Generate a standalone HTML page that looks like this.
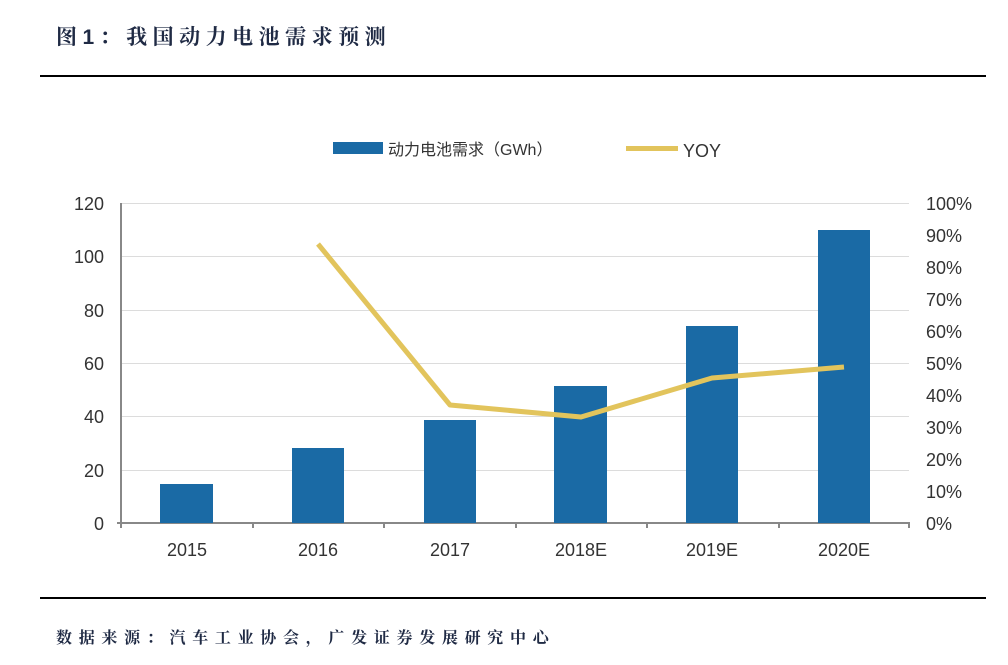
<!DOCTYPE html>
<html><head><meta charset="utf-8"><style>
body{margin:0;background:#fff;width:1008px;height:660px;overflow:hidden}
</style></head><body>
<svg width="1008" height="660" xmlns="http://www.w3.org/2000/svg" font-family="'Liberation Sans','Noto Sans CJK SC',sans-serif">
<text x="56" y="44" font-size="21" font-weight="bold" fill="#1f2a44" letter-spacing="5.5" font-family="'Liberation Sans','Noto Serif CJK SC',serif">图1：我国动力电池需求预测</text>
<rect x="40" y="75" width="946" height="2" fill="#000"/>
<rect x="40" y="597" width="946" height="2" fill="#000"/>
<text x="56" y="643" font-size="16" font-weight="bold" fill="#1f2a44" letter-spacing="6.7" font-family="'Liberation Sans','Noto Serif CJK SC',serif">数据来源：汽车工业协会，广发证券发展研究中心</text>
<!-- legend -->
<rect x="333" y="142" width="50" height="12" fill="#1a6aa5"/>
<text x="388" y="155" font-size="16" fill="#333">动力电池需求（GWh）</text>
<rect x="626" y="146" width="52" height="5" fill="#e2c45c"/>
<text x="683" y="157" font-size="18" fill="#333">YOY</text>
<!-- grid -->
<g stroke="#dcdcdc" stroke-width="1">
<line x1="121" y1="203.5" x2="909" y2="203.5"/>
<line x1="121" y1="256.5" x2="909" y2="256.5"/>
<line x1="121" y1="310.5" x2="909" y2="310.5"/>
<line x1="121" y1="363.5" x2="909" y2="363.5"/>
<line x1="121" y1="416.5" x2="909" y2="416.5"/>
<line x1="121" y1="470.5" x2="909" y2="470.5"/>
</g>
<!-- axes -->
<g stroke="#888" stroke-width="2" fill="none">
<line x1="121" y1="203" x2="121" y2="523"/>
<line x1="117" y1="523" x2="910" y2="523"/>
<line x1="121" y1="523" x2="121" y2="528"/><line x1="253" y1="523" x2="253" y2="528"/><line x1="384" y1="523" x2="384" y2="528"/><line x1="516" y1="523" x2="516" y2="528"/><line x1="647" y1="523" x2="647" y2="528"/><line x1="779" y1="523" x2="779" y2="528"/><line x1="909" y1="523" x2="909" y2="528"/>
</g>
<g font-size="18" fill="#333" text-anchor="end">
<text x="104" y="530">0</text><text x="104" y="477">20</text><text x="104" y="423">40</text><text x="104" y="370">60</text><text x="104" y="317">80</text><text x="104" y="263">100</text><text x="104" y="210">120</text>
</g>
<g font-size="18" fill="#333">
<text x="926" y="530">0%</text><text x="926" y="498">10%</text><text x="926" y="466">20%</text><text x="926" y="434">30%</text><text x="926" y="402">40%</text><text x="926" y="370">50%</text><text x="926" y="338">60%</text><text x="926" y="306">70%</text><text x="926" y="274">80%</text><text x="926" y="242">90%</text><text x="926" y="210">100%</text>
</g>
<g fill="#1a6aa5">
<rect x="160" y="484" width="53" height="39"/>
<rect x="292" y="448" width="52" height="75"/>
<rect x="424" y="420" width="52" height="103"/>
<rect x="554" y="386" width="53" height="137"/>
<rect x="686" y="326" width="52" height="197"/>
<rect x="818" y="230" width="52" height="293"/>
</g>
<polyline points="318,244 450,405 581,417 712,378 844,367" fill="none" stroke="#e2c45c" stroke-width="5" stroke-linejoin="round"/>
<g font-size="18" fill="#333" text-anchor="middle">
<text x="187" y="556">2015</text><text x="318" y="556">2016</text><text x="450" y="556">2017</text><text x="581" y="556">2018E</text><text x="712" y="556">2019E</text><text x="844" y="556">2020E</text>
</g>
</svg>
</body></html>
